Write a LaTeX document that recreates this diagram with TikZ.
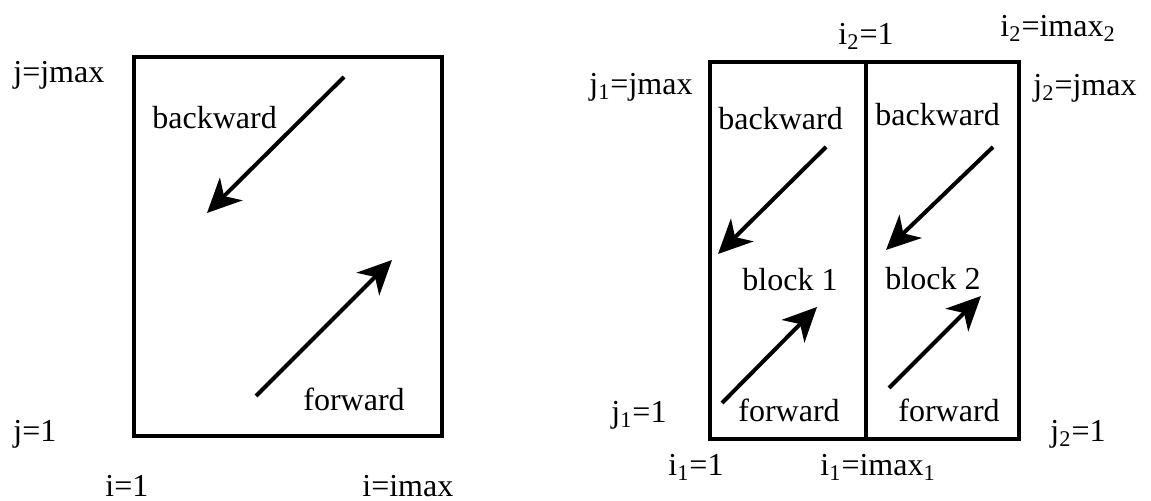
\documentclass[tikz,border=0pt]{standalone}
\usepackage{fontspec}
\setmainfont{Liberation Serif}
\usetikzlibrary{arrows.meta}
\begin{document}
\begin{tikzpicture}[x=0.5pt,y=-0.5pt,
  lbl/.style={anchor=mid west,inner sep=0pt,yshift=-2.5pt,font=\fontsize{16pt}{18pt}\selectfont},
  boxline/.style={line width=2pt,line join=miter},
  flow/.style={line width=2pt,-{Stealth[length=17pt,width=16pt,inset=5pt]}}]
\useasboundingbox (0,0) rectangle (1151,501);
% left panel
\draw[boxline] (134,57) rectangle (442,436);
\node[lbl] (ljmax) at (13,73) {j=jmax};
\node[lbl] (lj1) at (13,432) {j=1};
\node[lbl] (li1) at (105,487) {i=1};
\node[lbl] (limax) at (362,487) {i=imax};
\node[lbl] (lback) at (152,119) {backward};
\node[lbl] (lfwd) at (303,401) {forward};
\coordinate (lbs) at (344,77);
\coordinate (lbe) at (207,213);
\coordinate (lfs) at (256,396);
\coordinate (lfe) at (392,260);
\draw[flow] (lbs) -- (lbe);
\draw[flow] (lfs) -- (lfe);
% right panel
\draw[boxline] (710,62) rectangle (1019,439);
\draw[boxline] (866,62) -- (866,439);
\node[lbl] (ri2one) at (838,35) {i\textsubscript{2}=1};
\node[lbl] (ri2max) at (1000,27) {i\textsubscript{2}=imax\textsubscript{2}};
\node[lbl] (rj1max) at (589,85) {j\textsubscript{1}=jmax};
\node[lbl] (rj2max) at (1033,86) {j\textsubscript{2}=jmax};
\node[lbl] (rj1one) at (611,413) {j\textsubscript{1}=1};
\node[lbl] (rj2one) at (1050,432) {j\textsubscript{2}=1};
\node[lbl] (ri1one) at (668,466) {i\textsubscript{1}=1};
\node[lbl] (ri1max) at (820,466) {i\textsubscript{1}=imax\textsubscript{1}};
\node[lbl] (rback1) at (718,120) {backward};
\node[lbl] (rback2) at (875,116) {backward};
\node[lbl] (blk1) at (742,281) {block 1};
\node[lbl] (blk2) at (885,280) {block 2};
\node[lbl] (rfwd1) at (738,412) {forward};
\node[lbl] (rfwd2) at (898,412) {forward};
\coordinate (b1s) at (826,147);
\coordinate (b1e) at (718,254);
\coordinate (b2s) at (993,147);
\coordinate (b2e) at (886,250);
\coordinate (f1s) at (722,403);
\coordinate (f1e) at (817,307);
\coordinate (f2s) at (889,388);
\coordinate (f2e) at (981,296);
\draw[flow] (b1s) -- (b1e);
\draw[flow] (b2s) -- (b2e);
\draw[flow] (f1s) -- (f1e);
\draw[flow] (f2s) -- (f2e);
\end{tikzpicture}
\end{document}
